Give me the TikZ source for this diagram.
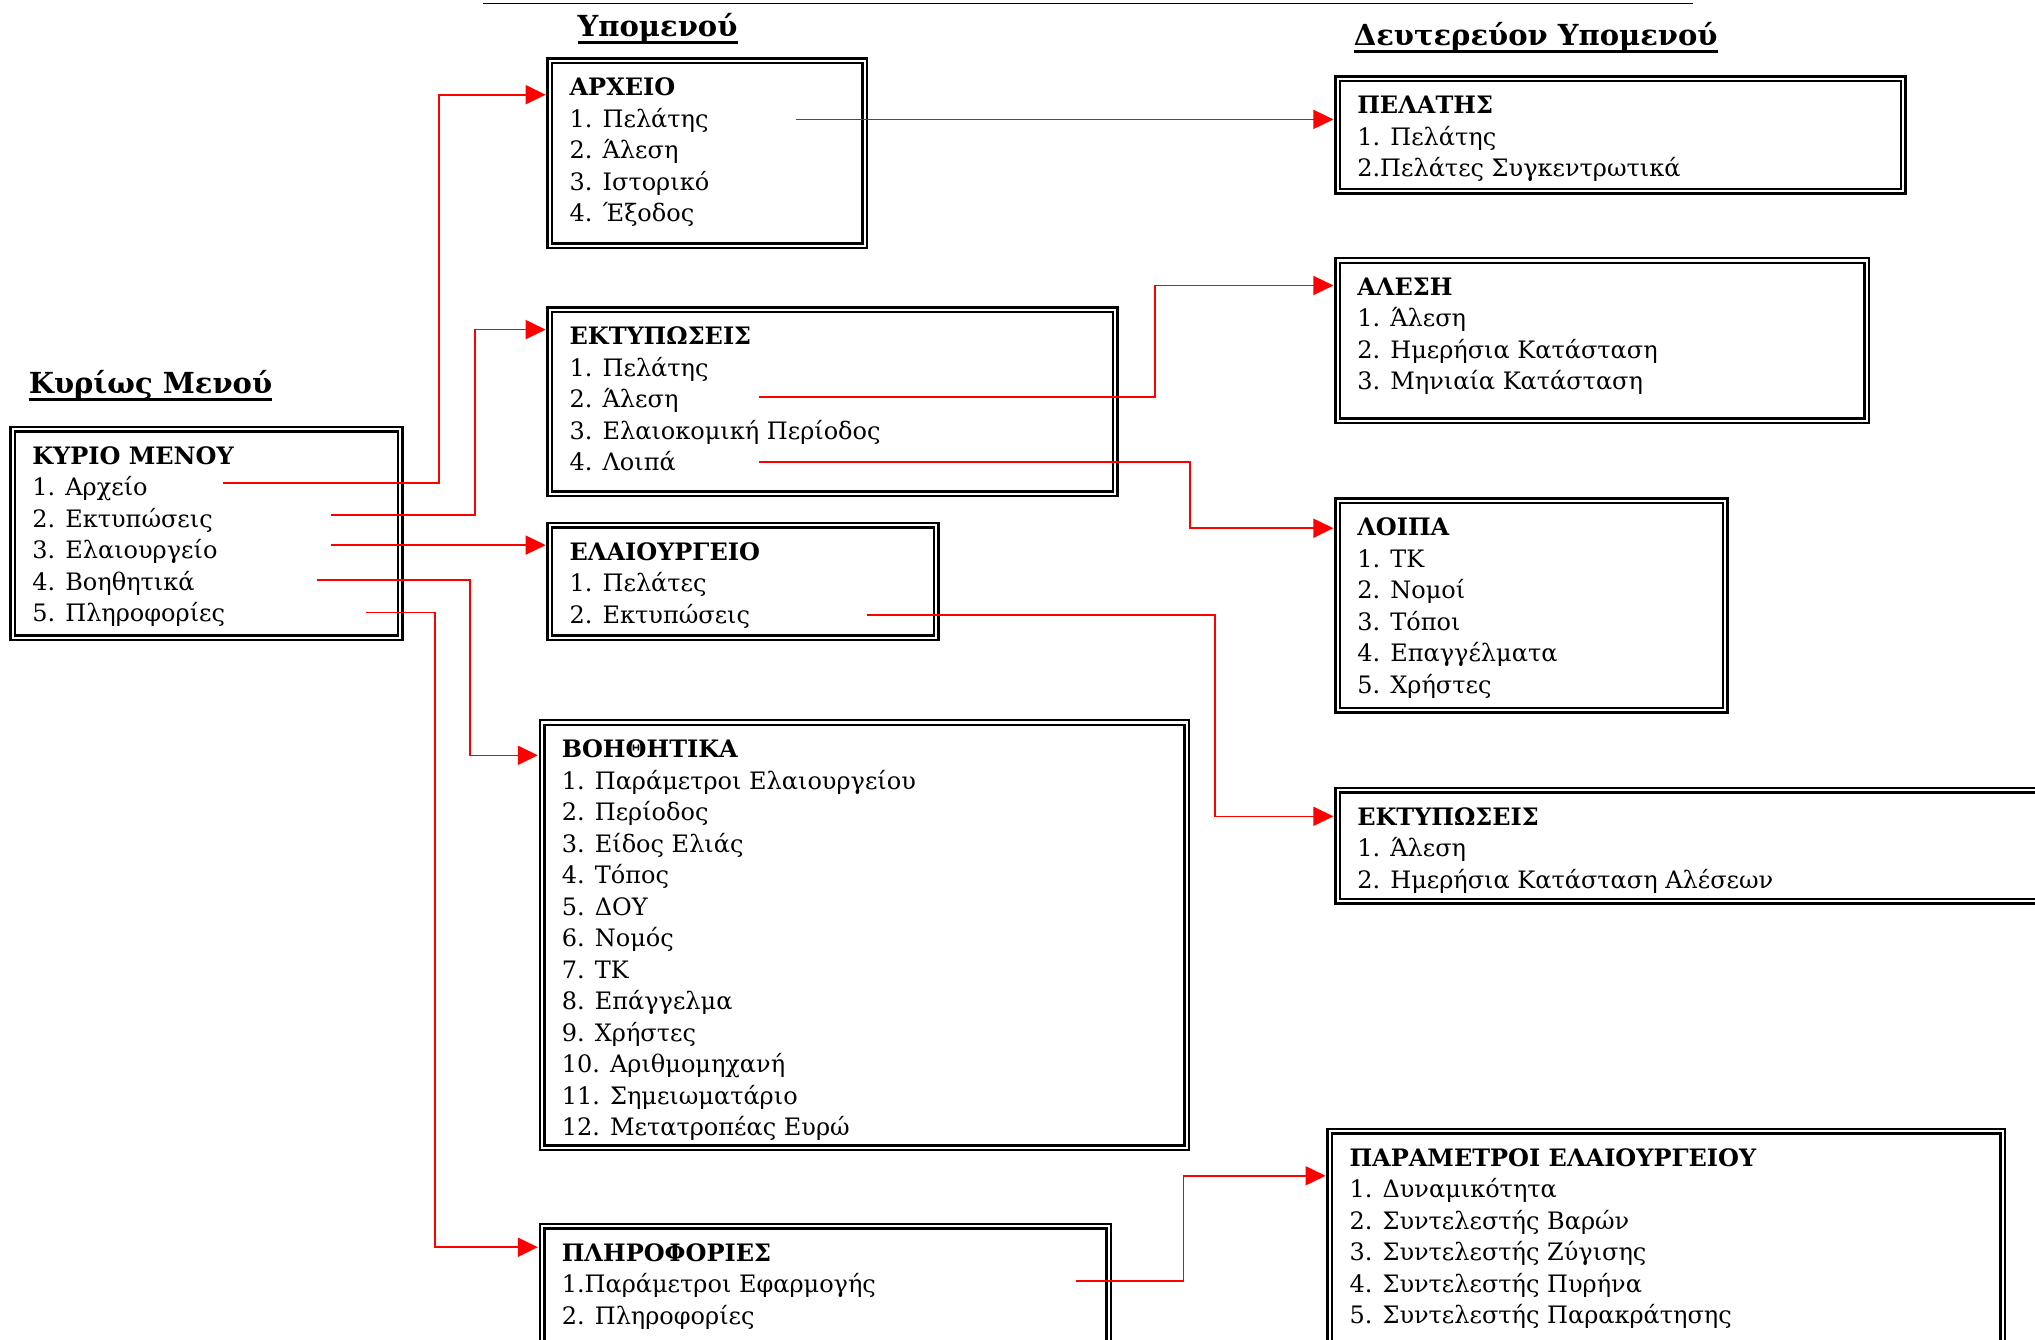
\documentclass[tikz,border=0pt]{standalone}
\usepackage{fontspec}
\setmainfont{DejaVu Serif}
\usetikzlibrary{arrows.meta}

\tikzset{
  panel/.style={draw, line width=2.4pt, double, double distance=2.2pt, inner sep=0pt},
  itemtext/.style={font=\fontsize{24}{31.5}\selectfont, align=left, inner sep=0pt, anchor=north west},
  heading/.style={font=\fontsize{29}{34}\selectfont\bfseries, inner sep=0pt, anchor=base west},
  headrule/.style={line width=2.6pt},
  conn/.style={draw=red, line width=1.6pt, -{Triangle[length=20pt,width=19pt]}, shorten >=3pt},
}

% #1 name, #2 #3 outer top-left corner, #4 #5 outer bottom-right corner, #6 lines
\newcommand\MenuPanel[6]{%
  \node[panel, minimum width={#4-#2-7}, minimum height={#5-#3-7}]
    (#1) at ({(#2+#4)/2},{(#3+#5)/2}) {};
  \node[itemtext] (#1-text) at ({#2+23},{#3+20.5}) {#6};
}

\begin{document}
\begin{tikzpicture}[x=1pt,y=-1pt]
\useasboundingbox (0,0) rectangle (2035,1339);
\clip (0,0) rectangle (2035,1339);

% running header rule
\draw[line width=1.2pt] (483,3.5) -- (1693,3.5);

% column headings
\node[heading] (hmain) at (28.6,393) {Κυρίως Μενού};
\node[heading] (hsub) at (577.5,36) {Υπομενού};
\node[heading] (hsec) at (1353.6,45) {Δευτερεύον Υπομενού};
\foreach \h in {hmain,hsub,hsec}
  \draw[headrule] ([yshift=-6.5pt]\h.base west) -- ([yshift=-6.5pt]\h.base east);

% menu panels
\MenuPanel{mainmenu}{9.1}{425.7}{403.6}{641.1}{\textbf{ΚΥΡΙΟ ΜΕΝΟΥ}\\1. Αρχείο\\2. Εκτυπώσεις\\3. Ελαιουργείο\\4. Βοηθητικά\\5. Πληροφορίες}
\MenuPanel{archive}{546.4}{57.1}{868.2}{249.2}{\textbf{ΑΡΧΕΙΟ}\\1. Πελάτης\\2. Άλεση\\3. Ιστορικό\\4. Έξοδος}
\MenuPanel{prints}{546.4}{306.3}{1118.7}{497.1}{\textbf{ΕΚΤΥΠΩΣΕΙΣ}\\1. Πελάτης\\2. Άλεση\\3. Ελαιοκομική Περίοδος\\4. Λοιπά}
\MenuPanel{mill}{546.4}{521.7}{939.6}{641.1}{\textbf{ΕΛΑΙΟΥΡΓΕΙΟ}\\1. Πελάτες\\2. Εκτυπώσεις}
\MenuPanel{aux}{538.6}{719.0}{1190.1}{1151.2}{\textbf{ΒΟΗΘΗΤΙΚΑ}\\1. Παράμετροι Ελαιουργείου\\2. Περίοδος\\3. Είδος Ελιάς\\4. Τόπος\\5. ΔΟΥ\\6. Νομός\\7. ΤΚ\\8. Επάγγελμα\\9. Χρήστες\\10. Αριθμομηχανή\\11. Σημειωματάριο\\12. Μετατροπέας Ευρώ}
\MenuPanel{info}{538.6}{1222.5}{1112.2}{1370}{\textbf{ΠΛΗΡΟΦΟΡΙΕΣ}\\1.Παράμετροι Εφαρμογής\\2. Πληροφορίες}
\MenuPanel{client}{1334.1}{75.3}{1906.5}{194.7}{\textbf{ΠΕΛΑΤΗΣ}\\1. Πελάτης\\2.Πελάτες Συγκεντρωτικά}
\MenuPanel{milling}{1334.1}{257.0}{1870.1}{424.4}{\textbf{ΑΛΕΣΗ}\\1. Άλεση\\2. Ημερήσια Κατάσταση\\3. Μηνιαία Κατάσταση}
\MenuPanel{misc}{1334.1}{497.1}{1728.7}{713.8}{\textbf{ΛΟΙΠΑ}\\1. ΤΚ\\2. Νομοί\\3. Τόποι\\4. Επαγγέλματα\\5. Χρήστες}
\MenuPanel{millprints}{1334.1}{786.5}{2070}{904.6}{\textbf{ΕΚΤΥΠΩΣΕΙΣ}\\1. Άλεση\\2. Ημερήσια Κατάσταση Αλέσεων}
\MenuPanel{params}{1326.3}{1127.8}{2006.4}{1370}{\textbf{ΠΑΡΑΜΕΤΡΟΙ ΕΛΑΙΟΥΡΓΕΙΟΥ}\\1. Δυναμικότητα\\2. Συντελεστής Βαρών\\3. Συντελεστής Ζύγισης\\4. Συντελεστής Πυρήνα\\5. Συντελεστής Παρακράτησης}

% connector start points (menu items) and bends
\coordinate (m1) at (223,482.8);   \coordinate (m1k) at (438.7,94.7);
\coordinate (m2) at (331,515.2);   \coordinate (m2k) at (475,329.6);
\coordinate (m3) at (331,545.1);
\coordinate (m4) at (316.7,580.1); \coordinate (m4k) at (469.8,755.3);
\coordinate (m5) at (366,612.6);   \coordinate (m5k) at (434.8,1247.2);
\coordinate (s1) at (795.6,119.4);
\coordinate (s2) at (759.2,397.1); \coordinate (s2k) at (1155,285.5);
\coordinate (s3) at (759.2,462);   \coordinate (s3k) at (1190.1,528.2);
\coordinate (s4) at (867,615.2);   \coordinate (s4k) at (1214.7,816.3);
\coordinate (s5) at (1075.9,1280.9); \coordinate (s5k) at (1183.6,1175.8);

% main menu -> submenus
\draw[conn] (m1) -| (m1k) -- (m1k -| archive.west);
\draw[conn] (m2) -| (m2k) -- (m2k -| prints.west);
\draw[conn] (m3) -- (m3 -| mill.west);
\draw[conn] (m4) -| (m4k) -- (m4k -| aux.west);
\draw[conn] (m5) -| (m5k) -- (m5k -| info.west);

% submenus -> secondary submenus
\draw[conn] (s1) -- (s1 -| client.west);
\draw[conn] (s2) -| (s2k) -- (s2k -| milling.west);
\draw[conn] (s3) -| (s3k) -- (s3k -| misc.west);
\draw[conn] (s4) -| (s4k) -- (s4k -| millprints.west);
\draw[conn] (s5) -| (s5k) -- (s5k -| params.west);
\end{tikzpicture}
\end{document}
